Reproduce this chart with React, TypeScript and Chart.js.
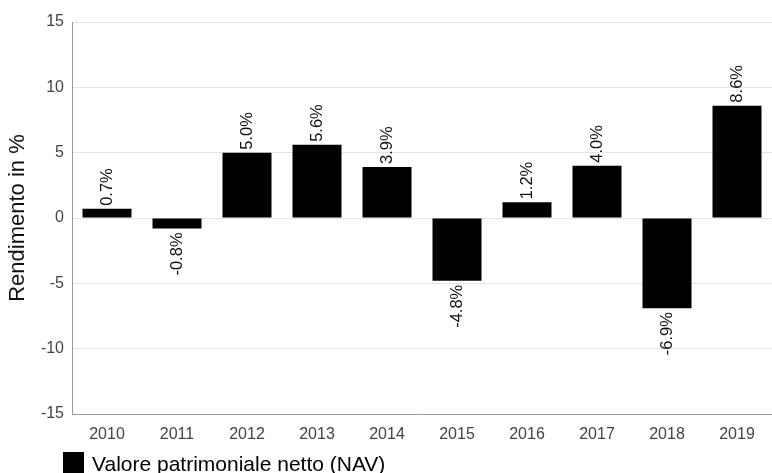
import React, { useEffect, useRef } from "react";
import { Chart, registerables } from "chart.js";

Chart.register(...registerables);

const years = ["2010", "2011", "2012", "2013", "2014", "2015", "2016", "2017", "2018", "2019"];
const navReturns = [0.7, -0.8, 5.0, 5.6, 3.9, -4.8, 1.2, 4.0, -6.9, 8.6];
const seriesLabel = "Valore patrimoniale netto (NAV)";
const axisTitle = "Rendimento in %";
const yTicks = [-15, -10, -5, 0, 5, 10, 15];

const FONT = "Arial, 'Liberation Sans', Helvetica, sans-serif";

const valueLabels = {
  id: "valueLabels",
  afterDatasetsDraw(chart: any) {
    const ctx = chart.ctx;
    const meta = chart.getDatasetMeta(0);
    const data = chart.data.datasets[0].data as number[];
    ctx.save();
    ctx.font = `16.5px ${FONT}`;
    ctx.fillStyle = "#111";
    ctx.textBaseline = "middle";
    meta.data.forEach((bar: any, i: number) => {
      const v = data[i];
      const text = `${v.toFixed(1)}%`;
      ctx.save();
      ctx.translate(bar.x, v >= 0 ? bar.y - 3 : bar.y + 4);
      ctx.rotate(-Math.PI / 2);
      ctx.textAlign = v >= 0 ? "left" : "right";
      ctx.fillText(text, 0, 0);
      ctx.restore();
    });
    ctx.restore();
  },
};

export default function App() {
  const ref = useRef<HTMLCanvasElement>(null);
  useEffect(() => {
    if (!ref.current) return;
    const chart = new Chart(ref.current, {
      type: "bar",
      data: {
        labels: years,
        datasets: [
          {
            label: seriesLabel,
            data: navReturns,
            backgroundColor: "#000",
            borderWidth: 0,
            categoryPercentage: 0.7,
            barPercentage: 1,
          },
        ],
      },
      options: {
        responsive: false,
        animation: false,
        layout: { padding: { top: 22, right: 0, left: 0, bottom: 0 } },
        plugins: {
          legend: { display: false },
          tooltip: { enabled: false },
        },
        scales: {
          x: {
            grid: { display: false, drawTicks: false },
            border: { color: "#999", width: 1 },
            ticks: { color: "#444", font: { family: FONT, size: 16 }, padding: 11 },
            afterFit: (s: any) => {
              s.height = 59;
            },
          },
          y: {
            min: -15,
            max: 15,
            afterBuildTicks: (s: any) => {
              s.ticks = yTicks.map((v) => ({ value: v }));
            },
            grid: { color: "#e4e4e4", drawTicks: false },
            border: { color: "#999", width: 1 },
            ticks: { color: "#444", font: { family: FONT, size: 16 }, padding: 8 },
            title: {
              display: true,
              text: axisTitle,
              color: "#111",
              font: { family: FONT, size: 22 },
              padding: { top: 5, bottom: 0 },
            },
            afterFit: (s: any) => {
              s.width = 72;
            },
          },
        },
      },
      plugins: [valueLabels],
    });
    return () => chart.destroy();
  }, []);

  return (
    <div style={{ position: "fixed", left: 0, top: 0, width: 772, height: 473, background: "#fff", overflow: "hidden" }}>
      <canvas ref={ref} width={772} height={473} style={{ position: "absolute", left: 0, top: 0 }} />
      <div
        style={{
          position: "absolute",
          left: 63,
          top: 452,
          display: "flex",
          alignItems: "flex-start",
          fontFamily: FONT,
          fontSize: 21,
          lineHeight: "24px",
          color: "#000",
          whiteSpace: "nowrap",
        }}
      >
        <span style={{ display: "inline-block", width: 21, height: 21, background: "#000", marginRight: 8 }} />
        <span>{seriesLabel}</span>
      </div>
    </div>
  );
}
